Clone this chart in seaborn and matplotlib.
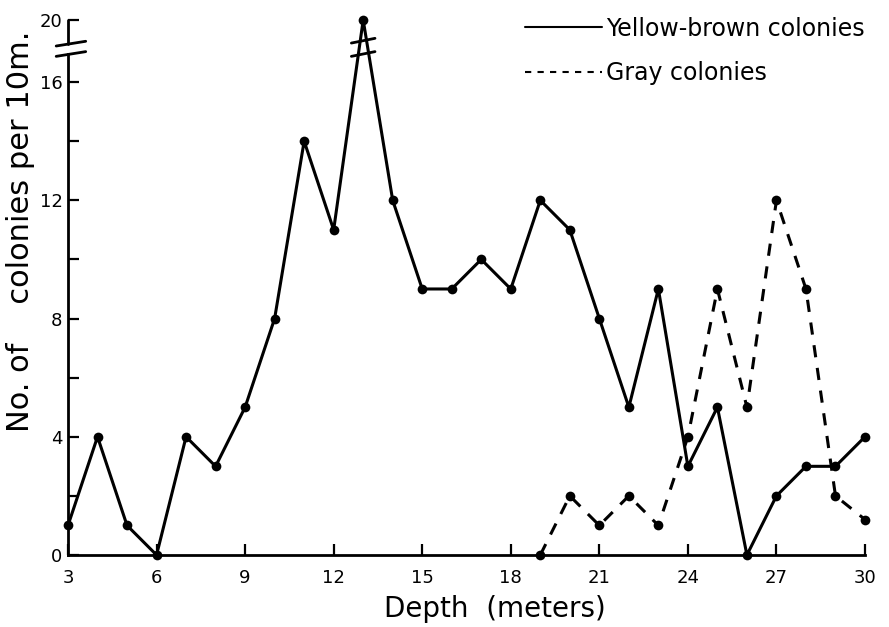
import seaborn as sns
import matplotlib.pyplot as plt
import pandas as pd
from matplotlib.lines import Line2D

# depth (m) and colony counts per 10 m
depth_yb = [3, 4, 5, 6, 7, 8, 9, 10, 11, 12, 13, 14, 15, 16, 17, 18,
            19, 20, 21, 22, 23, 24, 25, 26, 27, 28, 29, 30]
count_yb = [1, 4, 1, 0, 4, 3, 5, 8, 14, 11, 20, 12, 9, 9, 10, 9,
            12, 11, 8, 5, 9, 3, 5, 0, 2, 3, 3, 4]
depth_gray = [19, 20, 21, 22, 23, 24, 25, 26, 27, 28, 29, 30]
count_gray = [0, 2, 1, 2, 1, 4, 9, 5, 12, 9, 2, 1.2]

x_ticks = [3, 6, 9, 12, 15, 18, 21, 24, 27, 30]
y_ticks = [0, 2, 4, 6, 8, 10, 12, 14, 16, 20]
y_labels = ['0', '', '4', '', '8', '', '12', '', '16', '20']

# broken axis: values above 16 are squeezed so 20 sits at 18.1
BREAK_LO, BREAK_HI, TOP = 16.95, 17.3, 18.1


def squeeze(v):
    if v <= 16:
        return v
    return 16 + (v - 16) * (TOP - 16) / 4


sns.set_style("ticks")
plt.rcParams['font.family'] = ['DejaVu Sans']

yb = pd.DataFrame({'depth': depth_yb, 'n': [squeeze(v) for v in count_yb]})
gray = pd.DataFrame({'depth': depth_gray, 'n': [squeeze(v) for v in count_gray]})

fig = plt.figure(figsize=(8.89, 6.27), dpi=100)
ax = fig.add_axes([68 / 889, 72 / 627, 797 / 889, 535 / 627])

sns.lineplot(x='depth', y='n', data=yb, ax=ax, color='black', lw=2.2,
             marker='o', ms=7, mew=0, clip_on=False)
sns.lineplot(x='depth', y='n', data=gray, ax=ax, color='black', lw=2.2,
             linestyle=(0, (4, 3.5)), marker='o', ms=7, mew=0, clip_on=False)

ax.set_xlim(3, 30)
ax.set_ylim(0, TOP)
ax.set_xticks(x_ticks)
ax.set_yticks([squeeze(v) for v in y_ticks])
ax.set_yticklabels(y_labels)
ax.tick_params(axis='both', direction='in', labelsize=13, width=1.6,
               length=8, color='black', labelcolor='black')
ax.tick_params(axis='x', pad=10)
ax.tick_params(axis='y', pad=4)

for s in ['top', 'right']:
    ax.spines[s].set_visible(False)
for s in ['left', 'bottom']:
    ax.spines[s].set_linewidth(2)
    ax.spines[s].set_color('black')
ax.spines['left'].set_bounds(0, BREAK_LO)

# upper part of the y axis plus break marks
ax.plot([3, 3], [BREAK_HI, TOP], color='black', lw=2, clip_on=False)
for yb_ in [BREAK_LO, BREAK_HI]:
    ax.plot([2.6, 3.6], [yb_ - 0.08, yb_ + 0.08], color='black', lw=2,
            clip_on=False)
# break marks on the peak at 13 m
for yb_ in [16.95, 17.4]:
    ax.plot([12.6, 13.4], [yb_ - 0.08, yb_ + 0.08], color='black', lw=2)

ax.set_xlabel('Depth  (meters)', fontsize=20, color='black')
ax.xaxis.set_label_coords(0.536, -0.075)
ax.set_ylabel('No. of    colonies per 10m.', fontsize=22, color='black')
ax.yaxis.set_label_coords(-0.042, 0.605)

handles = [Line2D([], [], color='black', lw=1.5),
           Line2D([], [], color='black', lw=1.5, linestyle=(0, (3, 3)))]
ax.legend(handles, ['Yellow-brown colonies', 'Gray colonies'],
          loc='upper left', bbox_to_anchor=(508 / 889, 1.0),
          bbox_transform=fig.transFigure, frameon=False, fontsize=17,
          labelcolor='black',
          handlelength=3.3, handletextpad=0.15, labelspacing=0.88,
          borderaxespad=0.3)

plt.savefig('out.png', dpi=100)
